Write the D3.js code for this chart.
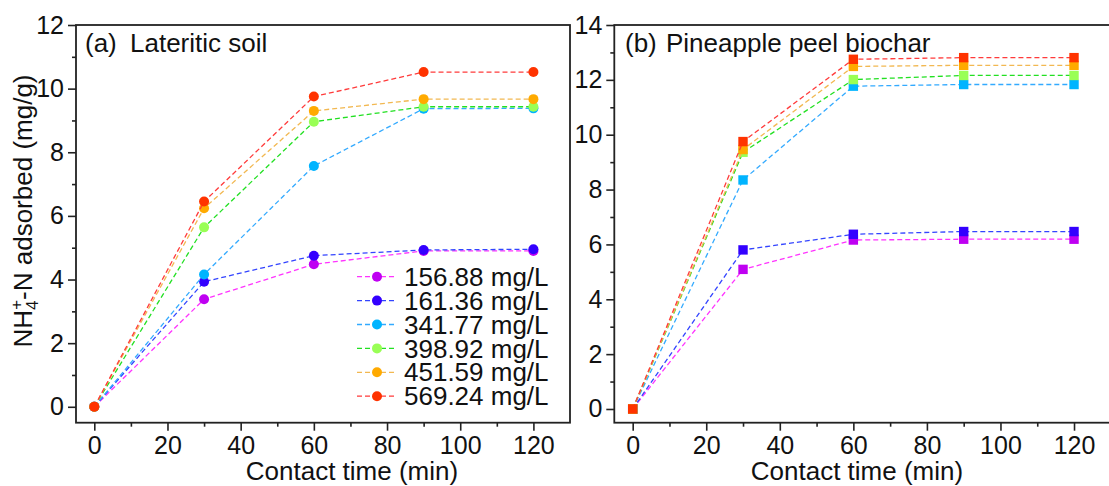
<!DOCTYPE html>
<html>
<head>
<meta charset="utf-8">
<script src="https://cdn.jsdelivr.net/npm/d3@7"></script>
<style>
  html, body { margin: 0; padding: 0; background: #fff; }
  svg { display: block; font-family: "Liberation Sans", Arial, sans-serif; }
</style>
</head>
<body>
<svg id="chart" width="1109" height="486"></svg>
<script>
// Contact time (min)
const times = [0, 30, 60, 90, 120];

// Initial NH4+-N concentrations
const concLabels = ["156.88 mg/L", "161.36 mg/L", "341.77 mg/L", "398.92 mg/L", "451.59 mg/L", "569.24 mg/L"];

// (a) Lateritic soil, amount adsorbed (mg/g)
const soil156 = [0, 3.38, 4.48, 4.90, 4.90];
const soil161 = [0, 3.93, 4.75, 4.93, 4.95];
const soil341 = [0, 4.16, 7.57, 9.37, 9.38];
const soil398 = [0, 5.64, 8.96, 9.43, 9.43];
const soil451 = [0, 6.24, 9.30, 9.67, 9.67];
const soil569 = [0, 6.45, 9.75, 10.52, 10.52];

// (b) Pineapple peel biochar, amount adsorbed (mg/g)
const bio156 = [0, 5.09, 6.16, 6.19, 6.19];
const bio161 = [0, 5.80, 6.37, 6.47, 6.47];
const bio341 = [0, 8.35, 11.77, 11.83, 11.83];
const bio398 = [0, 9.36, 12.01, 12.16, 12.16];
const bio451 = [0, 9.46, 12.49, 12.53, 12.53];
const bio569 = [0, 9.75, 12.75, 12.81, 12.81];

// Axis ticks
const xTicks = [0, 20, 40, 60, 80, 100, 120];
const xMinor = [10, 30, 50, 70, 90, 110];
const yTicksA = [0, 2, 4, 6, 8, 10, 12];
const yMinorA = [1, 3, 5, 7, 9, 11];
const yTicksB = [0, 2, 4, 6, 8, 10, 12, 14];
const yMinorB = [1, 3, 5, 7, 9, 11, 13];

const markerColors = ["#bf00f2", "#3300ff", "#00b4ff", "#99ff55", "#ffaa00", "#ff3300"];
const lineColors   = ["#ff33ff", "#3344ff", "#33aaff", "#22e022", "#f2b851", "#ff3b3b"];

const soilSeries = [soil156, soil161, soil341, soil398, soil451, soil569];
const bioSeries  = [bio156, bio161, bio341, bio398, bio451, bio569];

const svg = d3.select("#chart");
const FONT = 25;

function panel(opts) {
  const { left, right, top, bottom, yMax, yTicks, yMinor, series, marker, tag, title, titleX, nameX, xTitleX } = opts;
  const x = d3.scaleLinear().domain([-5, 130]).range([left, right]);
  const y = d3.scaleLinear().domain([-0.5, yMax]).range([bottom, top]);
  const g = svg.append("g");

  // frame
  g.append("rect")
    .attr("x", left).attr("y", top)
    .attr("width", right - left).attr("height", bottom - top)
    .attr("fill", "none").attr("stroke", "#222").attr("stroke-width", 1.8);

  // minor ticks
  g.append("g").attr("transform", `translate(0,${bottom})`)
    .call(d3.axisBottom(x).tickValues(xMinor).tickSize(4).tickFormat(""))
    .call(a => a.select(".domain").remove())
    .call(a => a.selectAll("line").attr("stroke", "#222").attr("stroke-width", 1.6));
  g.append("g").attr("transform", `translate(${left},0)`)
    .call(d3.axisLeft(y).tickValues(yMinor).tickSize(4).tickFormat(""))
    .call(a => a.select(".domain").remove())
    .call(a => a.selectAll("line").attr("stroke", "#222").attr("stroke-width", 1.6));

  // major ticks
  g.append("g").attr("transform", `translate(0,${bottom})`)
    .call(d3.axisBottom(x).tickValues(xTicks).tickSize(8).tickPadding(6).tickFormat(d3.format("d")))
    .call(a => a.select(".domain").remove())
    .call(a => a.selectAll("line").attr("stroke", "#222").attr("stroke-width", 1.6))
    .call(a => a.selectAll("text").attr("font-size", FONT).attr("fill", "#111")
      .attr("font-family", "Liberation Sans, Arial, sans-serif"));
  g.append("g").attr("transform", `translate(${left},0)`)
    .call(d3.axisLeft(y).tickValues(yTicks).tickSize(8).tickPadding(4).tickFormat(d3.format("d")))
    .call(a => a.select(".domain").remove())
    .call(a => a.selectAll("line").attr("stroke", "#222").attr("stroke-width", 1.6))
    .call(a => a.selectAll("text").attr("font-size", FONT).attr("fill", "#111")
      .attr("font-family", "Liberation Sans, Arial, sans-serif"));

  // x axis title
  g.append("text")
    .attr("x", xTitleX).attr("y", 480)
    .attr("text-anchor", "middle").attr("font-size", 26).attr("fill", "#111")
    .text("Contact time (min)");

  // panel title
  const t = g.append("text").attr("y", 52).attr("font-size", 26).attr("fill", "#111");
  t.append("tspan").attr("x", titleX).text(tag);
  t.append("tspan").attr("x", nameX).text(title);

  // series
  const line = d3.line().x((d, i) => x(times[i])).y(d => y(d));
  series.forEach((vals, s) => {
    const sg = g.append("g");
    sg.append("path")
      .datum(vals)
      .attr("d", line)
      .attr("fill", "none")
      .attr("stroke", lineColors[s])
      .attr("stroke-width", 1.3)
      .attr("stroke-dasharray", "5,3");
    if (marker === "circle") {
      sg.selectAll("circle").data(vals).join("circle")
        .attr("cx", (d, i) => x(times[i])).attr("cy", d => y(d))
        .attr("r", 5).attr("fill", markerColors[s]);
    } else {
      sg.selectAll("rect").data(vals).join("rect")
        .attr("x", (d, i) => x(times[i]) - 4.7).attr("y", d => y(d) - 4.7)
        .attr("width", 9.4).attr("height", 9.4).attr("fill", markerColors[s]);
    }
  });
  return { x, y, g };
}

const pa = panel({
  left: 76, right: 570, top: 25, bottom: 422.7, yMax: 12,
  yTicks: yTicksA, yMinor: yMinorA, series: soilSeries, marker: "circle",
  tag: "(a)", title: "Lateritic soil", titleX: 85, nameX: 130, xTitleX: 352
});

const pb = panel({
  left: 614.3, right: 1110.8, top: 25, bottom: 422.7, yMax: 14,
  yTicks: yTicksB, yMinor: yMinorB, series: bioSeries, marker: "square",
  tag: "(b)", title: "Pineapple peel biochar", titleX: 625, nameX: 666, xTitleX: 857
});

// legend inside panel (a)
const legend = svg.append("g");
concLabels.forEach((lab, i) => {
  const cy = 276.7 + i * 23.9;
  legend.append("line")
    .attr("x1", 357).attr("x2", 397).attr("y1", cy).attr("y2", cy)
    .attr("stroke", lineColors[i]).attr("stroke-width", 1.3).attr("stroke-dasharray", "5,3");
  legend.append("circle").attr("cx", 377).attr("cy", cy).attr("r", 5).attr("fill", markerColors[i]);
  legend.append("text")
    .attr("x", 404).attr("y", cy).attr("dy", "0.35em")
    .attr("font-size", 26).attr("fill", "#111").text(lab);
});

// shared y axis title: NH4+-N adsorbed (mg/g)
const yl = svg.append("text")
  .attr("transform", "translate(32,211) rotate(-90)")
  .attr("text-anchor", "middle").attr("font-size", 26).attr("fill", "#111");
yl.append("tspan").text("NH");
yl.append("tspan").attr("font-size", 17).attr("dy", 6).text("4");
yl.append("tspan").attr("font-size", 17).attr("dx", -9.4).attr("dy", -16).text("+");
yl.append("tspan").attr("dy", 10).text("-N adsorbed (mg/g)");
</script>
</body>
</html>
